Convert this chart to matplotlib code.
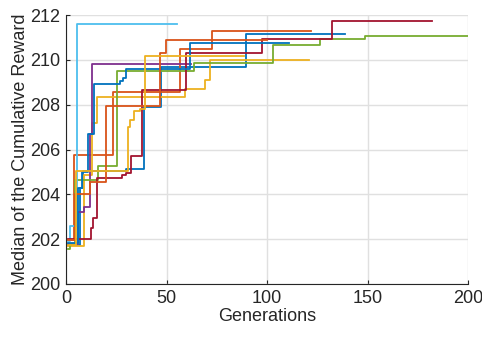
import matplotlib
matplotlib.use("Agg")
import matplotlib.pyplot as plt

# best-so-far median reward per run, stored as (generation, value) breakpoints
gen_1 = [1, 7, 8.5, 30, 39, 47.3, 89.5, 139]
rew_1 = [201.75, 204.3, 205.05, 205.15, 207.88, 209.7, 211.15, 211.15]

gen_2 = [1, 3.8, 23.3, 56.5, 72.5, 122]
rew_2 = [201.95, 205.75, 208.55, 210.5, 211.3, 211.3]

gen_3 = [1, 9, 13, 15.5, 59, 69, 71.5, 121]
rew_3 = [201.7, 204.85, 207.2, 208.35, 208.7, 209.1, 210.0, 210.0]

gen_4 = [1, 6, 9, 12, 13, 62]
rew_4 = [201.8, 203.2, 203.45, 206.7, 209.8, 209.8]

gen_5 = [1, 2, 4.5, 16, 25.5, 63.5, 103, 126.5, 149, 200]
rew_5 = [201.55, 201.8, 204.64, 205.28, 209.52, 209.84, 210.66, 210.93, 211.08, 211.08]

gen_6 = [1, 2, 5.5, 55]
rew_6 = [201.9, 202.6, 211.6, 211.6]

gen_7 = [1, 12.3, 13.5, 15.3, 28, 30, 32.5, 37.7, 59.5, 97.5, 132.5, 182]
rew_7 = [202.0, 202.5, 202.95, 204.75, 204.85, 204.95, 205.7, 208.65, 210.3, 210.93, 211.72, 211.72]

gen_8 = [1, 6, 8, 11, 14, 27, 28.5, 30, 61.5, 111]
rew_8 = [201.85, 204.3, 205.0, 206.7, 208.9, 209.05, 209.2, 209.58, 210.74, 210.74]

gen_9 = [1, 4.5, 12, 19.7, 46.8, 49.8, 99.8]
rew_9 = [201.95, 204.0, 204.57, 207.95, 210.3, 210.88, 210.88]

gen_10 = [1, 5, 31, 32, 34, 37, 39.5, 88.5]
rew_10 = [201.75, 205.05, 207.0, 207.3, 207.7, 207.8, 210.15, 210.15]

runs = [(gen_1, rew_1), (gen_2, rew_2), (gen_3, rew_3), (gen_4, rew_4),
        (gen_5, rew_5), (gen_6, rew_6), (gen_7, rew_7), (gen_8, rew_8),
        (gen_9, rew_9), (gen_10, rew_10)]

colors = ['#0072BD', '#D95319', '#EDB120', '#7E2F8E', '#77AC30',
          '#4DBEEE', '#A2142F']

plt.rcParams['font.family'] = ['Liberation Sans', 'DejaVu Sans']

fig = plt.figure(figsize=(4.82, 3.4), dpi=100)
ax = fig.add_axes([66 / 482, 56 / 340, 402 / 482, 269 / 340])

for i, (g, r) in enumerate(runs):
    ax.step(g, r, where='post', color=colors[i % len(colors)], lw=1.3)

ax.set_xlim(0, 200)
ax.set_ylim(200, 212)
ax.set_xticks([0, 50, 100, 150, 200])
ax.set_yticks([200, 202, 204, 206, 208, 210, 212])

ax.grid(True, color='#e0e0e0', lw=1.0)
ax.set_axisbelow(True)
for s in ['top', 'right']:
    ax.spines[s].set_visible(False)
for s in ['left', 'bottom']:
    ax.spines[s].set_color('#262626')
    ax.spines[s].set_linewidth(0.8)
ax.tick_params(direction='in', length=3, width=0.8, colors='#262626',
               labelsize=13, labelcolor='#262626', pad=4)

ax.set_xlabel('Generations', fontsize=13, color='#262626', labelpad=1)
ax.set_ylabel('Median of the Cumulative Reward', fontsize=13,
              color='#262626', labelpad=1)

fig.savefig('out.png', dpi=100)
